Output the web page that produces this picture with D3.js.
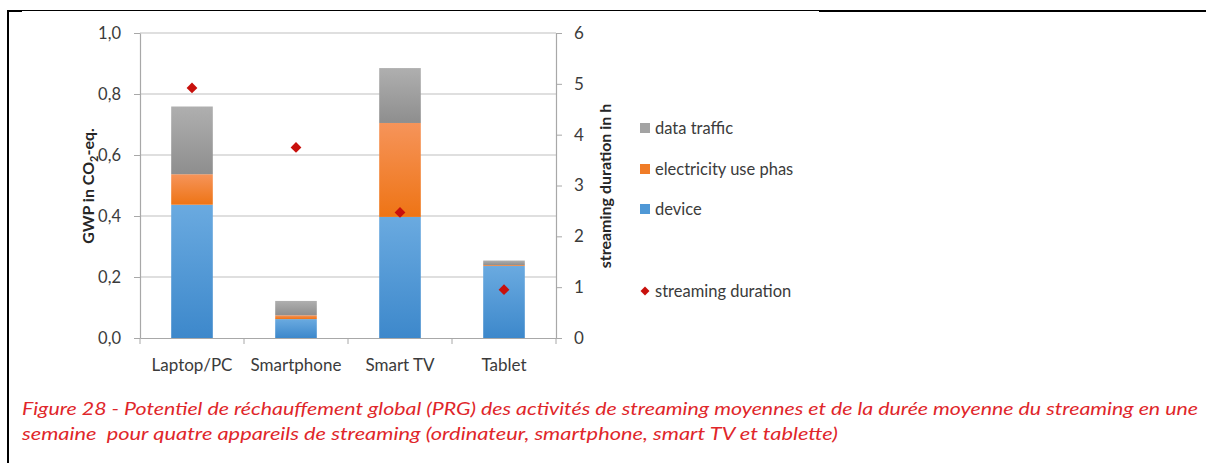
<!DOCTYPE html>
<html>
<head>
<meta charset="utf-8">
<script src="https://cdn.jsdelivr.net/npm/d3@7"></script>
<style>
  html, body { margin: 0; padding: 0; background: #fff; }
  svg { display: block; }
  text { font-family: Lato, "Open Sans", sans-serif; }
</style>
</head>
<body>
<svg id="chart" width="1206" height="463"></svg>
<script>
// ---- data ----
const categories = ["Laptop/PC", "Smartphone", "Smart TV", "Tablet"];
const device = [0.437, 0.062, 0.397, 0.236];
const electricity = [0.100, 0.0125, 0.308, 0.003];
const dataTraffic = [0.222, 0.047, 0.180, 0.015];
const streamingDuration = [4.92, 3.75, 2.47, 0.95];
const leftTicks = [0, 0.2, 0.4, 0.6, 0.8, 1.0];
const rightTicks = [0, 1, 2, 3, 4, 5, 6];
const seriesKeys = ["device", "electricity", "data"];
const seriesLabels = ["data traffic", "electricity use phas", "device", "streaming duration"];
const captionLines = [
  "Figure 28 - Potentiel de réchauffement global (PRG) des activités de streaming moyennes et de la durée moyenne du streaming en une",
  "semaine  pour quatre appareils de streaming (ordinateur, smartphone, smart TV et tablette)"
];

const svg = d3.select("#chart");

// frame lines
svg.append("line").attr("x1", 8).attr("x2", 8).attr("y1", 10).attr("y2", 463)
  .attr("stroke", "#000").attr("stroke-width", 2);
svg.append("line").attr("x1", 7).attr("x2", 819).attr("y1", 10.5).attr("y2", 10.5)
  .attr("stroke", "#000").attr("stroke-width", 1);
svg.append("line").attr("x1", 7).attr("x2", 22).attr("y1", 11).attr("y2", 11)
  .attr("stroke", "#000").attr("stroke-width", 2);
svg.append("line").attr("x1", 819).attr("x2", 1206).attr("y1", 11).attr("y2", 11)
  .attr("stroke", "#000").attr("stroke-width", 2);

// gradients
const defs = svg.append("defs");
const grads = {
  device: ["#6aaae0", "#3d88cb"],
  electricity: ["#f6945a", "#ee7415"],
  data: ["#afafaf", "#8e8e8e"]
};
Object.entries(grads).forEach(([k, [c1, c2]]) => {
  const g = defs.append("linearGradient").attr("id", "g-" + k)
    .attr("x1", 0).attr("y1", 0).attr("x2", 0).attr("y2", 1);
  g.append("stop").attr("offset", "0%").attr("stop-color", c1);
  g.append("stop").attr("offset", "100%").attr("stop-color", c2);
});

// scales
const x = d3.scaleBand().domain(categories).range([140, 556]).padding(0);
const y = d3.scaleLinear().domain([0, 1]).range([338, 33]);
const y2 = d3.scaleLinear().domain([0, 6]).range([338, 33]);
const barW = x.bandwidth() * 0.4;
const textColor = "#3b3b3b";
const axisColor = "#a8a8a8";

// gridlines
svg.append("g").selectAll("line").data(leftTicks.filter(d => d > 0)).join("line")
  .attr("x1", 140).attr("x2", 556)
  .attr("y1", d => y(d)).attr("y2", d => y(d))
  .attr("stroke", "#d4d4d4").attr("stroke-width", 1.5);

// stacked bars
const table = categories.map((c, i) => ({
  cat: c, device: device[i], electricity: electricity[i], data: dataTraffic[i]
}));
const stacked = d3.stack().keys(seriesKeys)(table);
const barsG = svg.append("g");
stacked.forEach(layer => {
  barsG.append("g").selectAll("rect").data(layer).join("rect")
    .attr("x", d => x(d.data.cat) + x.bandwidth() / 2 - barW / 2)
    .attr("width", barW)
    .attr("y", d => y(d[1]))
    .attr("height", d => Math.max(0, y(d[0]) - y(d[1])))
    .attr("fill", "url(#g-" + layer.key + ")");
});

// left axis
const leftAxis = svg.append("g").attr("transform", "translate(140,0)")
  .call(d3.axisLeft(y).tickValues(leftTicks).tickSize(6).tickSizeOuter(0)
    .tickFormat(d => d.toFixed(1).replace(".", ",")));
leftAxis.select(".domain").attr("stroke", axisColor).attr("stroke-width", 1.2);
leftAxis.selectAll(".tick line").attr("stroke", axisColor);
leftAxis.selectAll(".tick text").attr("fill", textColor).attr("font-size", 16.5)
  .attr("x", -19).attr("font-family", "Lato, sans-serif");

// right axis
const rightAxis = svg.append("g").attr("transform", "translate(556,0)")
  .call(d3.axisRight(y2).tickValues(rightTicks).tickSize(6).tickSizeOuter(0)
    .tickFormat(d3.format("d")));
rightAxis.select(".domain").attr("stroke", axisColor).attr("stroke-width", 1.2);
rightAxis.selectAll(".tick line").attr("stroke", axisColor);
rightAxis.selectAll(".tick text").attr("fill", textColor).attr("font-size", 17)
  .attr("x", 18).attr("font-family", "Lato, sans-serif");

// bottom axis
const bottomAxis = svg.append("g").attr("transform", "translate(0,338)")
  .call(d3.axisBottom(x).tickSize(0).tickSizeOuter(0));
bottomAxis.select(".domain").attr("stroke", axisColor).attr("stroke-width", 1.2);
bottomAxis.selectAll(".tick text").attr("fill", textColor).attr("font-size", 17)
  .attr("dy", 0).attr("y", 33).attr("font-family", "Lato, sans-serif");
const boundaries = categories.map(c => x(c)).concat([x.range()[1]]);
svg.append("g").selectAll("line").data(boundaries).join("line")
  .attr("x1", d => d).attr("x2", d => d).attr("y1", 338).attr("y2", 344)
  .attr("stroke", axisColor);

// diamonds
const diamond = d3.symbol().type(d3.symbolSquare).size(58);
svg.append("g").selectAll("path").data(streamingDuration).join("path")
  .attr("d", diamond)
  .attr("transform", (d, i) => `translate(${x(categories[i]) + x.bandwidth() / 2},${y2(d)}) rotate(45)`)
  .attr("fill", "#c8100c");

// axis titles
const lt = svg.append("text")
  .attr("transform", "translate(94,186) rotate(-90)")
  .attr("text-anchor", "middle").attr("font-weight", "bold").attr("font-size", 16)
  .attr("fill", "#262626");
lt.append("tspan").text("GWP in CO");
lt.append("tspan").text("2").attr("font-size", 11).attr("dy", 4);
lt.append("tspan").text("-eq.").attr("dy", -4);

svg.append("text")
  .attr("transform", "translate(611,186) rotate(-90)")
  .attr("text-anchor", "middle").attr("font-weight", "bold").attr("font-size", 16)
  .attr("fill", "#262626")
  .text("streaming duration in h");

// legend
const legendY = [128, 169, 209, 291];
const legendColors = ["#a3a3a3", "#f07c27", "#4f98d6", "#c8100c"];
const lg = svg.append("g");
seriesLabels.forEach((lab, i) => {
  if (i < 3) {
    lg.append("rect").attr("x", 640).attr("y", legendY[i] - 5).attr("width", 10).attr("height", 10)
      .attr("fill", legendColors[i]);
  } else {
    lg.append("path").attr("d", d3.symbol().type(d3.symbolSquare).size(40))
      .attr("transform", `translate(645,${legendY[i]}) rotate(45)`).attr("fill", legendColors[i]);
  }
  lg.append("text").attr("x", 655).attr("y", legendY[i]).attr("dy", "0.35em")
    .attr("font-size", 16.5).attr("fill", textColor).text(lab);
});

// caption
const capY = [415, 440];
const capW = [1176, 816];
captionLines.forEach((line, i) => {
  svg.append("text").attr("x", 22).attr("y", capY[i])
    .attr("font-style", "italic").attr("font-size", 17).attr("fill", "#e0262a")
    .attr("textLength", capW[i]).attr("lengthAdjust", "spacingAndGlyphs")
    .style("white-space", "pre")
    .text(line);
});
</script>
</body>
</html>
